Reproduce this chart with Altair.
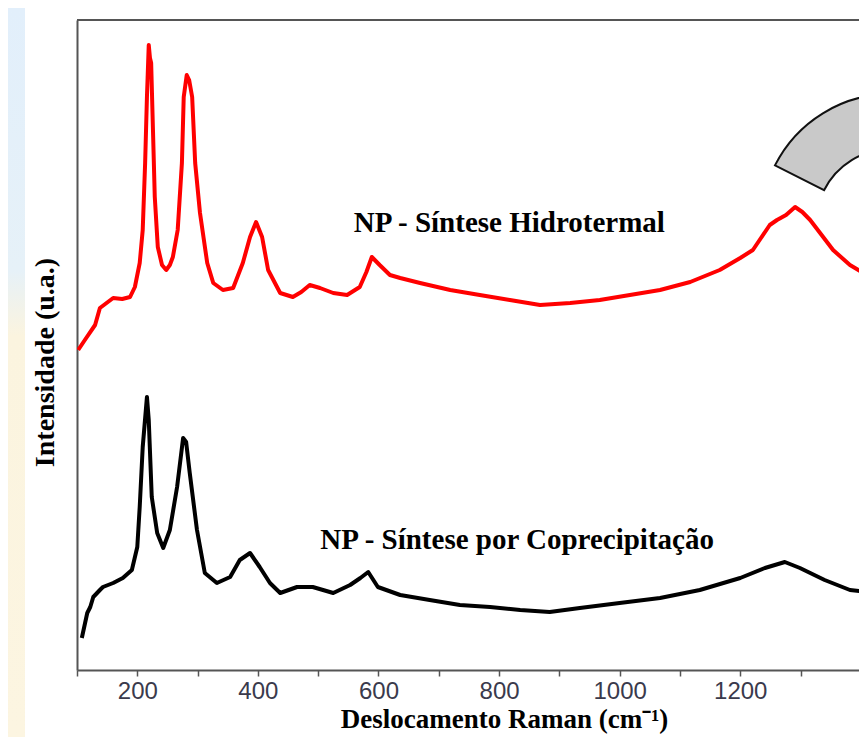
import altair as alt
import pandas as pd

# Raman shift (cm-1) and intensity (a.u.)
red_shift = [102, 113, 130, 138, 160, 175, 188, 196, 204, 209,
             213, 216, 219, 221, 223, 226, 229, 234, 241, 248,
             254, 259, 267, 274, 277, 282, 286, 291, 296, 304,
             316, 326, 342, 359, 375, 387, 397, 407, 417, 437,
             458, 472, 486, 503, 525, 548, 569, 580, 589, 602,
             619, 636, 669, 719, 768, 818, 868, 918, 967, 1017,
             1067, 1117, 1166, 1200, 1221, 1249, 1261, 1276, 1291, 1303,
             1316, 1335, 1354, 1382, 1410]
red_int = [320, 330, 345, 362, 372, 371, 373, 383, 407, 440,
           507, 573, 625, 612, 607, 540, 473, 423, 405, 400,
           405, 413, 440, 507, 573, 595, 590, 573, 507, 457,
           407, 387, 380, 382, 407, 433, 448, 433, 400, 377,
           373, 378, 385, 382, 377, 375, 383, 398, 413, 405,
           395, 392, 387, 380, 375, 370, 365, 367, 370, 375,
           380, 388, 400, 412, 420, 445, 450, 455, 463, 458,
           450, 435, 420, 405, 395]

black_shift = [108, 117, 122, 127, 138, 143, 160, 176, 191, 200,
               204, 209, 216, 219, 224, 233, 243, 254, 266, 276,
               281, 287, 299, 312, 332, 354, 370, 387, 403, 420,
               437, 465, 491, 525, 553, 570, 583, 599, 636, 685,
               735, 785, 835, 884, 934, 1000, 1067, 1133, 1200, 1241,
               1274, 1299, 1340, 1382, 1410]
black_int = [32, 57, 63, 73, 80, 83, 87, 92, 100, 123,
             163, 223, 273, 250, 173, 137, 122, 140, 183, 232,
             228, 197, 140, 97, 87, 93, 110, 117, 103, 87,
             77, 83, 83, 77, 85, 92, 98, 83, 75, 70,
             65, 63, 60, 58, 62, 67, 72, 80, 92, 102,
             108, 102, 90, 80, 78]

label_text = ["NP - Síntese Hidrotermal", "NP - Síntese por Coprecipitação"]
label_shift = [817, 830]
label_int = [438, 121]

x_ticks = [100, 200, 300, 400, 500, 600, 700, 800, 900, 1000, 1100, 1200, 1300]

W, H = 782, 650

spectra = pd.DataFrame({
    "shift": red_shift + black_shift,
    "intensity": red_int + black_int,
    "amostra": ["Hidrotermal"] * len(red_shift) + ["Coprecipitação"] * len(black_shift),
})
labels = pd.DataFrame({"shift": label_shift, "intensity": label_int, "texto": label_text})
one = pd.DataFrame({"k": [0]})

xscale = alt.Scale(domain=[100, 1397], nice=False, zero=False)
yscale = alt.Scale(domain=[0, 650], nice=False, zero=False)

strip = alt.Chart(one).mark_rect(
    fill=alt.Gradient(
        gradient="linear", x1=0, x2=0, y1=0, y2=1,
        stops=[alt.GradientStop(color="#e2effb", offset=0),
               alt.GradientStop(color="#e6f1f8", offset=0.36),
               alt.GradientStop(color="#fbf4df", offset=0.45),
               alt.GradientStop(color="#fcf5e1", offset=1)]),
).encode(x=alt.value(-69), x2=alt.value(-52), y=alt.value(-12), y2=alt.value(717))

arrow = alt.Chart(one).mark_arc(
    fill="#c9c9c9", stroke="#111111", strokeWidth=2,
    theta=5.18, theta2=6.283, radius=130, radius2=75,
).encode(x=alt.value(814), y=alt.value(204))

top_border = alt.Chart(one).mark_rule(color="#555555", strokeWidth=2).encode(
    x=alt.value(0), x2=alt.value(W), y=alt.value(0))

lines = alt.Chart(spectra).mark_line(strokeWidth=4, clip=True, strokeJoin="round").encode(
    x=alt.X("shift:Q", scale=xscale,
            axis=alt.Axis(values=x_ticks, format="d",
                          labelExpr="datum.value % 200 == 0 ? datum.label : ''",
                          title="Deslocamento Raman (cm⁻¹)",
                          titleX=427, titleY=57, titleBaseline="alphabetic",
                          titleFontSize=27,
                          titleAnchor="start", titleAlign="center")),
    y=alt.Y("intensity:Q", scale=yscale,
            axis=alt.Axis(labels=False, ticks=False, title="Intensidade (u.a.)",
                          titleX=-32, titleY=342, titleBaseline="middle",
                          titleAlign="center", titleAngle=270)),
    color=alt.Color("amostra:N",
                    scale=alt.Scale(domain=["Hidrotermal", "Coprecipitação"],
                                    range=["#ff0000", "#000000"]),
                    legend=None),
    detail="amostra:N",
)

texts = alt.Chart(labels).mark_text(
    font="Liberation Serif", fontWeight="bold", fontSize=29, color="#000000",
    align="center", baseline="alphabetic",
).encode(x=alt.X("shift:Q", scale=xscale), y=alt.Y("intensity:Q", scale=yscale), text="texto:N")

chart = alt.layer(strip, arrow, top_border, lines, texts).properties(
    width=W, height=H,
    padding={"left": 69, "top": 12, "right": 0, "bottom": 67},
    autosize="none",
).configure_view(stroke=None).configure(background="white").configure_axis(
    grid=False,
    domainColor="#555555", domainWidth=2,
    tickColor="#555555", tickWidth=1.5, tickSize=6,
    labelFont="Liberation Sans", labelFontSize=24, labelColor="#3a3a4c", labelPadding=3,
    titleFont="Liberation Serif", titleFontWeight="bold", titleFontSize=28, titleColor="#000000",
)

chart.save("out.html", embed_options={"renderer": "svg", "actions": False})
